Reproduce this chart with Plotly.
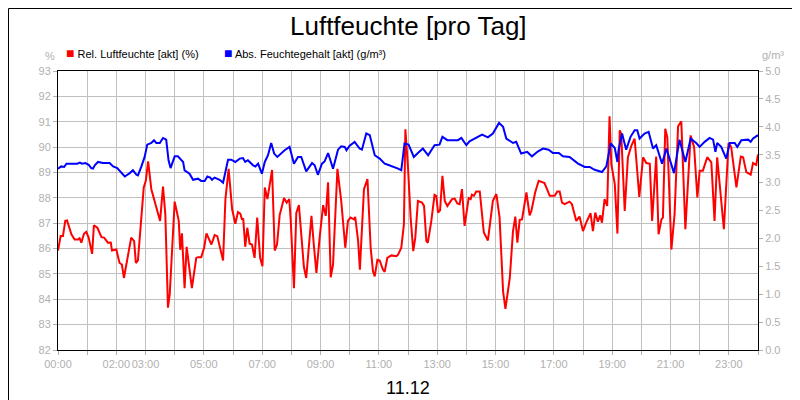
import plotly.graph_objects as go

rel_h = [0.00,0.09,0.17,0.25,0.31,0.46,0.57,0.69,0.74,0.80,0.89,0.97,1.05,1.17,1.23,1.35,1.49,1.58,1.71,1.81,1.85,2.00,2.11,2.19,2.26,2.38,2.51,2.61,2.67,2.74,2.86,2.94,3.01,3.09,3.20,3.31,3.50,3.60,3.68,3.77,3.83,4.00,4.14,4.19,4.25,4.34,4.41,4.59,4.74,4.80,4.91,5.01,5.09,5.26,5.37,5.46,5.58,5.66,5.74,5.85,5.97,6.08,6.17,6.25,6.31,6.35,6.42,6.49,6.57,6.65,6.74,6.83,6.93,7.01,7.09,7.18,7.34,7.43,7.51,7.60,7.75,7.84,7.93,7.98,8.09,8.17,8.26,8.37,8.43,8.51,8.69,8.77,8.86,8.97,9.09,9.18,9.26,9.35,9.43,9.58,9.71,9.85,9.94,10.03,10.15,10.19,10.29,10.35,10.49,10.61,10.72,10.80,10.86,10.95,11.03,11.14,11.20,11.29,11.43,11.60,11.66,11.77,11.86,11.91,12.00,12.09,12.18,12.25,12.34,12.48,12.55,12.63,12.68,12.80,12.91,12.97,13.03,13.10,13.18,13.26,13.35,13.51,13.60,13.69,13.77,13.85,13.94,14.08,14.15,14.19,14.26,14.34,14.46,14.60,14.69,14.74,14.91,15.03,15.14,15.26,15.34,15.49,15.60,15.68,15.75,15.83,15.91,16.06,16.17,16.23,16.36,16.48,16.68,16.86,17.03,17.12,17.20,17.28,17.37,17.54,17.62,17.77,17.88,18.00,18.11,18.26,18.34,18.42,18.51,18.59,18.65,18.74,18.83,18.91,18.97,19.09,19.18,19.26,19.31,19.43,19.54,19.66,19.77,19.93,20.06,20.17,20.29,20.37,20.51,20.59,20.69,20.74,20.82,20.89,21.03,21.14,21.26,21.37,21.51,21.69,21.81,21.92,22.00,22.11,22.26,22.40,22.51,22.60,22.83,22.99,23.08,23.26,23.41,23.49,23.60,23.75,23.83,23.94,24.00]
rel_v = [85.92,86.49,86.49,87.09,87.11,86.56,86.36,86.36,86.40,86.23,86.58,86.66,86.43,85.79,86.92,86.82,86.45,86.43,86.23,86.24,85.92,85.96,85.43,85.37,84.84,85.63,86.43,86.29,85.43,85.53,87.35,88.41,88.67,89.44,88.34,87.88,87.09,88.44,87.35,83.67,84.18,87.85,87.09,85.95,86.60,84.44,86.07,84.44,85.63,85.66,85.66,86.03,86.60,86.16,86.53,86.49,85.83,85.53,87.95,89.14,87.55,86.98,87.44,87.38,87.14,87.19,86.07,86.82,86.19,86.16,85.63,87.22,85.63,85.30,88.41,87.95,89.10,85.92,86.16,87.32,87.99,87.81,87.95,87.09,84.44,87.40,87.71,86.29,85.28,84.84,87.29,86.16,85.04,86.43,87.71,87.29,88.61,84.87,85.37,89.14,87.88,86.03,87.09,87.22,87.15,87.25,86.29,85.17,88.34,88.74,86.03,85.10,84.90,85.56,85.53,85.17,85.08,85.63,85.73,85.70,85.76,86.03,86.95,90.70,89.20,87.22,85.90,86.43,87.88,87.81,87.68,86.29,86.23,87.09,88.12,88.08,87.42,87.51,88.87,87.88,87.68,87.95,87.97,87.78,87.75,88.34,86.89,87.99,87.95,88.12,88.08,88.25,88.25,86.63,86.43,86.32,87.88,88.15,87.22,84.31,83.62,84.84,86.69,87.26,86.23,87.13,87.15,88.21,87.31,87.48,88.21,88.67,88.58,88.08,88.08,88.25,88.25,87.81,87.75,87.85,87.75,87.09,87.26,86.69,87.02,87.39,86.69,87.42,87.06,87.31,87.02,87.95,87.68,91.21,89.34,88.54,86.59,90.66,90.53,87.48,89.60,90.06,90.33,88.04,89.60,89.37,89.34,87.09,89.63,86.56,87.15,87.22,90.72,90.39,85.96,87.35,90.82,91.02,86.76,90.46,90.00,88.01,89.07,89.07,89.60,89.40,87.09,89.60,86.76,90.16,90.00,88.41,89.63,89.60,89.01,88.91,89.37,89.30,89.71]

abs_h = [0.00,0.11,0.21,0.29,0.66,0.75,0.82,0.94,1.05,1.14,1.20,1.26,1.37,1.54,1.77,1.89,2.03,2.15,2.29,2.46,2.57,2.69,2.74,2.86,2.97,3.06,3.20,3.29,3.37,3.49,3.60,3.71,3.79,3.86,4.00,4.11,4.29,4.34,4.51,4.63,4.80,4.91,5.03,5.12,5.22,5.28,5.37,5.54,5.66,5.83,5.94,6.08,6.23,6.34,6.42,6.51,6.69,6.77,6.86,6.99,7.09,7.20,7.31,7.41,7.52,7.77,7.94,8.09,8.23,8.34,8.51,8.71,8.80,8.91,9.05,9.14,9.26,9.43,9.60,9.71,9.83,9.89,10.00,10.17,10.34,10.42,10.57,10.69,10.86,11.03,11.20,11.31,11.49,11.66,11.77,11.88,12.02,12.20,12.34,12.51,12.69,12.91,13.08,13.18,13.35,13.71,13.83,14.00,14.11,14.31,14.54,14.74,14.91,15.12,15.26,15.37,15.60,15.71,15.88,16.09,16.25,16.46,16.63,16.82,16.97,17.17,17.31,17.54,17.83,18.06,18.23,18.40,18.65,18.80,18.95,19.09,19.18,19.22,19.34,19.48,19.63,19.77,19.86,19.94,20.11,20.25,20.40,20.51,20.71,20.86,21.12,21.31,21.51,21.69,21.88,22.00,22.17,22.34,22.46,22.54,22.60,22.74,22.91,23.03,23.20,23.29,23.43,23.66,23.75,23.83,24.00]
abs_v = [3.25,3.29,3.28,3.34,3.34,3.36,3.34,3.35,3.32,3.26,3.25,3.31,3.37,3.35,3.35,3.29,3.26,3.19,3.11,3.17,3.22,3.14,3.13,3.29,3.46,3.68,3.71,3.76,3.71,3.71,3.80,3.77,3.40,3.26,3.47,3.47,3.37,3.22,3.16,3.05,3.07,3.03,3.03,3.11,3.09,3.05,3.09,3.05,3.00,3.41,3.41,3.37,3.43,3.44,3.37,3.40,3.31,3.29,3.34,3.16,3.37,3.49,3.71,3.52,3.46,3.58,3.64,3.34,3.46,3.46,3.20,3.35,3.31,3.14,3.34,3.38,3.53,3.25,3.59,3.65,3.64,3.58,3.66,3.73,3.61,3.59,3.88,3.85,3.49,3.43,3.34,3.32,3.29,3.25,3.22,3.70,3.68,3.46,3.53,3.61,3.49,3.67,3.68,3.82,3.76,3.76,3.80,3.67,3.74,3.79,3.86,3.81,3.88,4.07,4.00,3.79,3.71,3.73,3.52,3.55,3.47,3.56,3.61,3.59,3.53,3.53,3.47,3.46,3.34,3.28,3.28,3.23,3.19,3.29,3.70,3.62,3.37,3.59,3.88,3.59,3.82,3.94,3.94,3.79,3.88,3.91,3.61,3.67,3.34,3.61,3.17,3.77,3.37,3.79,3.71,3.64,3.73,3.80,3.77,3.55,3.71,3.64,3.43,3.71,3.71,3.64,3.76,3.77,3.73,3.79,3.85]

hour_ticks = list(range(25))
labeled = {0:"00:00",2:"02:00",3:"03:00",5:"05:00",7:"07:00",9:"09:00",11:"11:00",13:"13:00",15:"15:00",17:"17:00",19:"19:00",21:"21:00",23:"23:00"}
tick_text = [labeled.get(h, "") for h in hour_ticks]
left_ticks = list(range(82, 94))
right_ticks = [i*0.5 for i in range(11)]

FONT = "Liberation Sans, Arial, sans-serif"
GRAY = "#b0b0b0"

fig = go.Figure()
fig.add_trace(go.Scatter(x=abs_h, y=abs_v, yaxis="y2", mode="lines",
                         line=dict(color="#0000ff", width=2), name="Abs. Feuchtegehalt [akt] (g/m³)"))
fig.add_trace(go.Scatter(x=rel_h, y=rel_v, mode="lines",
                         line=dict(color="#ff0000", width=2), name="Rel. Luftfeuchte [akt] (%)"))

axfont = dict(size=11, color=GRAY, family=FONT)
fig.update_layout(
    width=800, height=400, showlegend=False,
    paper_bgcolor="white", plot_bgcolor="white",
    margin=dict(l=50, r=50, t=63, b=58, autoexpand=False),
    font=dict(family=FONT, color="#000"),
    xaxis=dict(range=[0, 24], tickvals=hour_ticks, ticktext=tick_text, tickangle=0, automargin=False,
               showgrid=True, gridcolor="#c0c0c0", gridwidth=1,
               showline=True, linecolor="black", linewidth=1, mirror=True,
               ticks="outside", ticklen=4, tickcolor=GRAY, tickfont=axfont, zeroline=False),
    yaxis=dict(range=[82, 93], tickvals=left_ticks, automargin=False,
               showgrid=True, gridcolor="#c0c0c0", gridwidth=1,
               showline=True, linecolor="black", linewidth=1, mirror=True,
               ticks="outside", ticklen=4, tickcolor=GRAY, tickfont=axfont, zeroline=False),
    yaxis2=dict(range=[0, 5], tickvals=right_ticks, tickformat=".1f", automargin=False,
                overlaying="y", side="right", showgrid=False,
                ticks="outside", ticklen=4, tickcolor=GRAY, tickfont=axfont, zeroline=False),
)

W, H = 700, 279
def px(x): return (x - 50) / W
def py(y): return (342 - y) / H

def ann(text, x, y, size, color="#000", xanchor="center"):
    return dict(text=text, x=px(x), y=py(y), xref="paper", yref="paper", showarrow=False,
                xanchor=xanchor, yanchor="middle", font=dict(size=size, color=color, family=FONT))

fig.update_layout(
    shapes=[dict(type="rect", xref="paper", yref="paper", x0=px(0.5), x1=px(799.5),
                 y0=py(399.5), y1=py(0.5), line=dict(color="black", width=1))],
    annotations=[
        ann("Luftfeuchte [pro Tag]", 400, 18, 26),
        ann("11.12", 400, 380, 18),
        ann("<span style='color:#ff0000;font-size:14px'>■</span> Rel. Luftfeuchte [akt] (%)", 56, 45, 11, xanchor="left"),
        ann("<span style='color:#0000ff;font-size:14px'>■</span> Abs. Feuchtegehalt [akt] (g/m³)", 214, 45, 11, xanchor="left"),
        ann("%", 42, 48, 11, GRAY),
        ann("g/m³", 765, 47, 11, GRAY),
    ],
)

fig.write_html("out.html")
